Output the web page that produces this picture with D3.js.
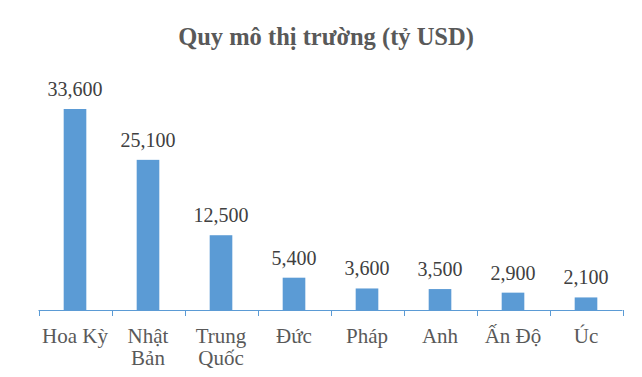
<!DOCTYPE html>
<html>
<head>
    <meta charset="utf-8">
    <title>Quy mô thị trường</title>
    <script src="https://d3js.org/d3.v7.min.js"></script>
    <style>
        body { margin: 0; background: #fff; }
        svg text { font-family: "Liberation Serif", "Times New Roman", serif; }
        .title { font-size: 24.5px; font-weight: bold; fill: #595959; text-anchor: middle; }
        .value { font-size: 20px; fill: #404040; text-anchor: middle; }
        .cat { font-size: 21px; fill: #595959; text-anchor: middle; }
        .bar { fill: #5b9bd5; }
        .axis line { stroke: #5b9bd5; }
    </style>
</head>
<body>
<div id="chart"></div>
<script>
    // categories (line breaks where the label wraps)
    const countries = ["Hoa Kỳ", "Nhật|Bản", "Trung|Quốc", "Đức", "Pháp", "Anh", "Ấn Độ", "Úc"];
    const values = [33600, 25100, 12500, 5400, 3600, 3500, 2900, 2100];

    const width = 642, height = 377;
    const left = 38.5, right = 622.5, bottom = 310;

    const svg = d3.select("#chart").append("svg")
        .attr("width", width)
        .attr("height", height);

    svg.append("text")
        .attr("class", "title")
        .attr("x", 326)
        .attr("y", 45)
        .text("Quy mô thị trường (tỷ USD)");

    const x = d3.scaleBand()
        .domain(countries)
        .range([left, right])
        .paddingInner(0.69)
        .paddingOuter(0.345);

    const y = d3.scaleLinear()
        .domain([0, 33600])
        .range([bottom, 109]);

    svg.selectAll(".bar")
        .data(values)
        .enter().append("rect")
        .attr("class", "bar")
        .attr("x", (d, i) => x(countries[i]))
        .attr("y", d => y(d))
        .attr("width", x.bandwidth())
        .attr("height", d => y(0) - y(d));

    svg.selectAll(".value")
        .data(values)
        .enter().append("text")
        .attr("class", "value")
        .attr("x", (d, i) => x(countries[i]) + x.bandwidth() / 2)
        .attr("y", d => y(d) - 13)
        .text(d => d3.format(",")(d));

    // axis line with ticks between categories
    const tickPos = d3.range(countries.length + 1).map(i => left + i * (right - left) / countries.length);
    const axis = svg.append("g").attr("class", "axis");
    axis.append("line")
        .attr("x1", left).attr("x2", right)
        .attr("y1", bottom + 0.5).attr("y2", bottom + 0.5);
    axis.selectAll(".tick")
        .data(tickPos)
        .enter().append("line")
        .attr("x1", d => Math.round(d) + 0.5).attr("x2", d => Math.round(d) + 0.5)
        .attr("y1", bottom).attr("y2", bottom + 6);

    const cats = svg.selectAll(".cat")
        .data(countries)
        .enter().append("text")
        .attr("class", "cat")
        .attr("x", d => x(d) + x.bandwidth() / 2)
        .attr("y", 343);
    cats.selectAll("tspan")
        .data(d => d.split("|"))
        .enter().append("tspan")
        .attr("x", function() { return this.parentNode.getAttribute("x"); })
        .attr("dy", (d, i) => i === 0 ? 0 : 22)
        .text(d => d);
</script>
</body>
</html>
